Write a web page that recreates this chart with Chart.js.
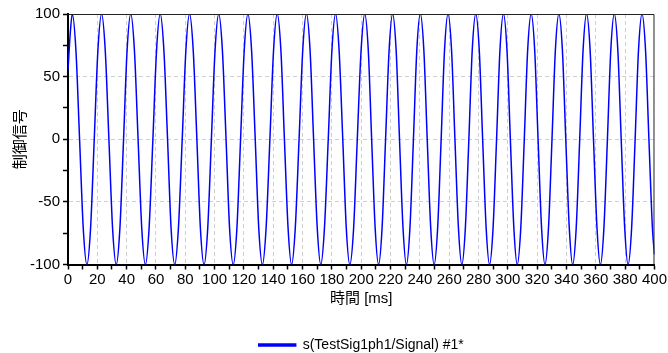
<!DOCTYPE html>
<html>
<head>
<meta charset="utf-8">
<script src="https://cdn.jsdelivr.net/npm/chart.js@4/dist/chart.umd.min.js"></script>
<style>
  html, body { margin: 0; padding: 0; background: #fff; }
  #wrap { width: 668px; height: 353px; position: relative; }
</style>
</head>
<body>
<div id="wrap"><canvas id="c" width="668" height="353"></canvas></div>
<script>
// Time axis [ms] of the read-off sample points
const times = [0, 1.5, 2.9,
  5.4, 7.9, 10.4, 12.9,       15.4, 17.9, 20.4, 22.9,
  25.4, 27.9, 30.4, 32.9,     35.4, 37.9, 40.3, 42.8,
  45.3, 47.8, 50.3, 52.8,     55.3, 57.9, 60.4, 62.9,
  65.4, 67.9, 70.3, 72.8,     75.3, 77.9, 80.4, 82.9,
  85.4, 87.9, 90.3, 92.8,     95.3, 97.8, 100.3, 102.8,
  105.3, 107.8, 110.2, 112.7, 115.2, 117.7, 120.2, 122.7,
  125.2, 127.7, 130.1, 132.6, 135.1, 137.7, 140.2, 142.7,
  145.2, 147.6, 150.1, 152.5, 155.0, 157.6, 160.1, 162.6,
  165.1, 167.5, 170.0, 172.4, 174.9, 177.5, 180.0, 182.5,
  184.9, 187.4, 189.8, 192.2, 194.8, 197.3, 199.9, 202.4,
  204.8, 207.1, 209.5, 211.8, 214.2, 216.6, 219.0, 221.4,
  223.8, 226.1, 228.5, 230.8, 233.2, 235.6, 237.9, 240.3,
  242.7, 245.0, 247.4, 249.7, 252.1, 254.5, 256.8, 259.2,
  261.6, 263.9, 266.3, 268.6, 271.0, 273.4, 275.7, 278.1,
  280.5, 282.8, 285.2, 287.5, 289.9, 292.3, 294.6, 297.0,
  299.4, 301.7, 304.1, 306.4, 308.8, 311.2, 313.5, 315.9,
  318.3, 320.6, 323.0, 325.3, 327.7, 330.1, 332.4, 334.8,
  337.2, 339.5, 341.9, 344.2, 346.6, 349.0, 351.3, 353.7,
  356.1, 358.4, 360.8, 363.1, 365.5, 367.9, 370.2, 372.6,
  375.0, 377.3, 379.7, 382.0, 384.4, 386.8, 389.1, 391.5,
  393.9, 396.2, 398.6, 400];

// Control signal values read at those times (one cycle per row)
const signal = [55, 84, 100,
  71, 0, -71, -100, -71, 0, 71, 100,   // 1
  71, 0, -71, -100, -71, 0, 71, 100,   // 2
  71, 0, -71, -100, -71, 0, 71, 100,   // 3
  71, 0, -71, -100, -71, 0, 71, 100,   // 4
  71, 0, -71, -100, -71, 0, 71, 100,   // 5
  71, 0, -71, -100, -71, 0, 71, 100,   // 6
  71, 0, -71, -100, -71, 0, 71, 100,   // 7
  71, 0, -71, -100, -71, 0, 71, 100,   // 8
  71, 0, -71, -100, -71, 0, 71, 100,   // 9
  71, 0, -71, -100, -71, 0, 71, 100,   // 10
  71, 0, -71, -100, -71, 0, 71, 100,   // 11
  71, 0, -71, -100, -71, 0, 71, 100,   // 12
  71, 0, -71, -100, -71, 0, 71, 100,   // 13
  71, 0, -71, -100, -71, 0, 71, 100,   // 14
  71, 0, -71, -100, -71, 0, 71, 100,   // 15
  71, 0, -71, -100, -71, 0, 71, 100,   // 16
  71, 0, -71, -100, -71, 0, 71, 100,   // 17
  71, 0, -71, -100, -71, 0, 71, 100,   // 18
  71, 0, -71, -100, -71, 0, 71, 100,   // 19
  71, 0, -71, -100, -71, 0, 71, 100,   // 20
  71, 0, -71, -92];

const seriesName = 's(TestSig1ph1/Signal) #1*';
const xTitle = '時間 [ms]';
const yTitle = '制御信号';
const xLabelStep = 20;   // labelled x ticks
const yLabelStep = 50;   // labelled y ticks

const points = times.map((t, i) => ({ x: t, y: signal[i] }));

const tickFont = { family: "'Liberation Sans', Arial, sans-serif", size: 15 };
const titleFont = { family: "'Liberation Sans', 'Noto Sans CJK JP', sans-serif", size: 15 };

const frame = {
  id: 'frame',
  afterDatasetsDraw(chart) {
    const { ctx, chartArea: a } = chart;
    ctx.save();
    ctx.strokeStyle = '#222';
    ctx.lineWidth = 1;
    ctx.beginPath();
    ctx.moveTo(a.left, a.top + 0.5);
    ctx.lineTo(a.right - 0.5, a.top + 0.5);
    ctx.lineTo(a.right - 0.5, a.bottom);
    ctx.stroke();
    ctx.restore();
  }
};

new Chart(document.getElementById('c'), {
  type: 'line',
  data: {
    datasets: [{
      label: seriesName,
      data: points,
      borderColor: '#0000ff',
      backgroundColor: '#0000ff',
      borderWidth: 1.5,
      pointRadius: 0,
      cubicInterpolationMode: 'monotone',
      fill: false
    }]
  },
  options: {
    responsive: false,
    animation: false,
    layout: { padding: { left: 0, right: 11, top: 14, bottom: -9 } },
    plugins: {
      legend: {
        position: 'bottom',
        fullSize: false,
        labels: {
          boxWidth: 37,
          boxHeight: 2,
          color: '#000',
          padding: 4,
          font: { family: "'Liberation Sans', Arial, sans-serif", size: 14 }
        }
      },
      tooltip: { enabled: false }
    },
    scales: {
      x: {
        type: 'linear',
        min: 0,
        max: 400,
        afterFit: s => { s.height = 69.5; },
        ticks: {
          stepSize: 10,
          autoSkip: false,
          maxRotation: 0,
          padding: 1,
          color: '#000',
          font: tickFont,
          callback: v => (v % xLabelStep === 0 ? String(v) : '')
        },
        grid: {
          color: c => (c.tick && c.tick.value % xLabelStep === 0 && c.tick.value > 0 && c.tick.value < 400) ? '#cfcfcf' : 'rgba(0,0,0,0)',
          lineWidth: 1,
          drawTicks: true,
          tickLength: 5,
          tickColor: '#000',
          tickWidth: 1.5
        },
        border: { display: true, color: '#000', width: 2, dash: [4, 3] },
        title: {
          display: true,
          text: xTitle,
          color: '#000',
          font: titleFont,
          padding: { top: 0, bottom: 26 }
        }
      },
      y: {
        min: -100,
        max: 100,
        afterFit: s => { s.width = 68; },
        ticks: {
          stepSize: 25,
          autoSkip: false,
          padding: 3,
          color: '#000',
          font: tickFont,
          callback: v => (v % yLabelStep === 0 ? String(v) : '')
        },
        grid: {
          color: c => (c.tick && c.tick.value % yLabelStep === 0 && c.tick.value > -100 && c.tick.value < 100) ? '#cfcfcf' : 'rgba(0,0,0,0)',
          lineWidth: 1,
          drawTicks: true,
          tickLength: 5,
          tickColor: '#000',
          tickWidth: 1.5
        },
        border: { display: true, color: '#000', width: 2, dash: [4, 3] },
        title: {
          display: true,
          text: yTitle,
          color: '#000',
          font: titleFont,
          padding: { top: 12, bottom: 0 }
        }
      }
    }
  },
  plugins: [frame]
});
</script>
</body>
</html>
